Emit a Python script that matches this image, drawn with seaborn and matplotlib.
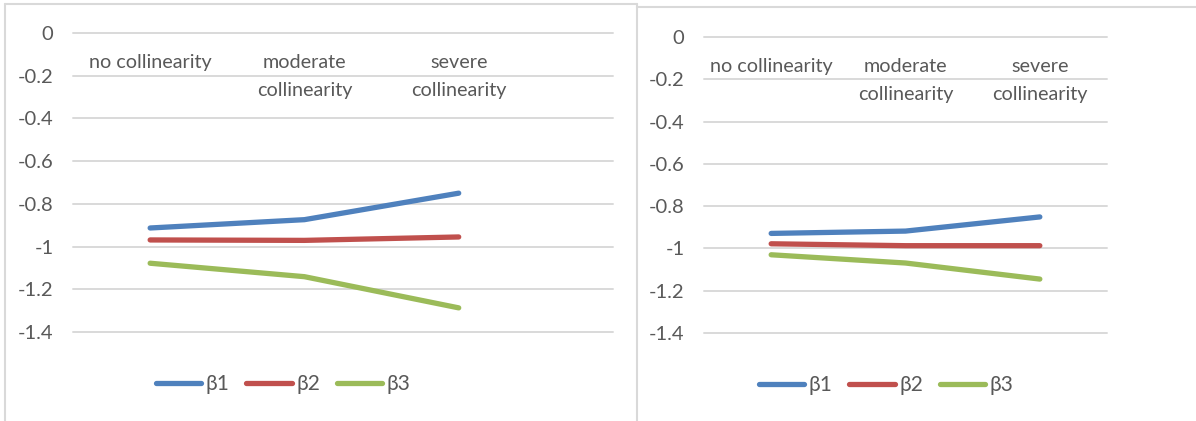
import numpy as np
import pandas as pd
import seaborn as sns
from matplotlib import pyplot as plt
from matplotlib.lines import Line2D

# data
categories = ["no collinearity", "moderate\ncollinearity", "severe\ncollinearity"]
series_names = ["β1", "β2", "β3"]

left_b1 = [-0.913, -0.874, -0.750]
left_b2 = [-0.969, -0.971, -0.955]
left_b3 = [-1.078, -1.141, -1.287]

right_b1 = [-0.929, -0.918, -0.851]
right_b2 = [-0.978, -0.987, -0.987]
right_b3 = [-1.030, -1.069, -1.145]

y_ticks = [0, -0.2, -0.4, -0.6, -0.8, -1, -1.2, -1.4]

colors = {"β1": "#4f81bd", "β2": "#c0504d", "β3": "#9bbb59"}
text_color = "#595959"
grid_color = "#d9d9d9"

W, H = 1196, 421


def to_long(b1, b2, b3):
    rows = []
    for name, vals in zip(series_names, [b1, b2, b3]):
        for i, v in enumerate(vals):
            rows.append({"pos": i, "value": v, "beta": name})
    return pd.DataFrame(rows)


def px_axes(fig, x0, x1, ytop, ybot):
    return fig.add_axes([x0 / W, (H - ybot) / H, (x1 - x0) / W, (ybot - ytop) / H])


def draw_panel(ax, df, xmax, legend_center):
    sns.lineplot(
        data=df, x="pos", y="value", hue="beta", palette=colors,
        linewidth=3.8, ax=ax, legend=False, sort=False,
    )
    for line in ax.lines:
        line.set_solid_capstyle("round")
        line.set_solid_joinstyle("round")

    ax.set_xlim(-0.5, xmax)
    ax.set_ylim(-1.4, 0)
    ax.set_yticks(y_ticks)
    ax.set_yticklabels([f"{v:g}" for v in y_ticks])
    ax.set_xticks([])
    ax.set_xlabel("")
    ax.set_ylabel("")
    ax.tick_params(axis="y", length=0, pad=14, labelsize=14.5, labelcolor=text_color)
    for s in ax.spines.values():
        s.set_visible(False)
    for v in y_ticks:
        ax.axhline(v, color=grid_color, linewidth=1.4, zorder=0, clip_on=False)

    # category labels sit just under the zero line (Excel axis crossing at 0)
    for i, lab in enumerate(categories):
        ax.annotate(
            lab, xy=(i, 0), xycoords="data", xytext=(0, -21),
            textcoords="offset pixels", ha="center", va="top",
            fontsize=14.2, color=text_color, linespacing=1.8,
        )

    handles = [Line2D([], [], color=colors[n], linewidth=3.8,
                      solid_capstyle="round") for n in series_names]
    leg = ax.figure.legend(
        handles, series_names, loc="center",
        bbox_to_anchor=(legend_center[0] / W, (H - legend_center[1]) / H),
        ncol=3, frameon=False, fontsize=15, handlelength=2.2,
        handletextpad=0.2, columnspacing=0.8,
    )
    for t in leg.get_texts():
        t.set_color(text_color)


sns.set_style("white")
plt.rcParams["font.family"] = ["Lato", "DejaVu Sans"]

fig = plt.figure(figsize=(W / 100, H / 100), dpi=100)

# chart area borders
fig.add_artist(Line2D([5 / W, 5 / W], [0, (H - 4) / H], color=grid_color, lw=1.5))
fig.add_artist(Line2D([5 / W, 637 / W], [(H - 4) / H, (H - 4) / H], color=grid_color, lw=1.5))
fig.add_artist(Line2D([637 / W, 637 / W], [0, (H - 4) / H], color=grid_color, lw=1.5))
fig.add_artist(Line2D([637 / W, 1 - 0.5 / W], [(H - 7) / H, (H - 7) / H], color=grid_color, lw=1.5))

ax_left = px_axes(fig, 73, 613, 33, 332)
draw_panel(ax_left, to_long(left_b1, left_b2, left_b3), 3.0, (283, 384))

ax_right = px_axes(fig, 704, 1107, 37, 333)
draw_panel(ax_right, to_long(right_b1, right_b2, right_b3), 2.5, (886, 385))

fig.savefig("out.png", dpi=100)
